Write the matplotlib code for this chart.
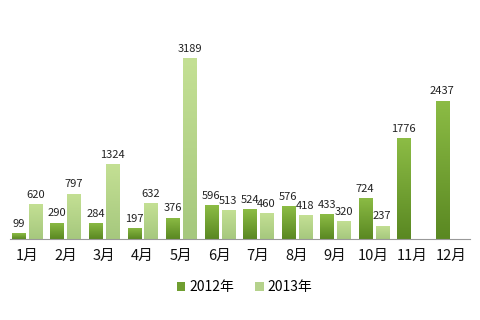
import matplotlib
matplotlib.use('Agg')
import matplotlib.pyplot as plt
from matplotlib.colors import LinearSegmentedColormap
from matplotlib.patches import Patch
import numpy as np

plt.rcParams['font.family'] = ['Noto Sans CJK SC', 'DejaVu Sans']

months = ['1月', '2月', '3月', '4月', '5月', '6月', '7月', '8月', '9月', '10月', '11月', '12月']
sales_2012 = [99, 290, 284, 197, 376, 596, 524, 576, 433, 724, 1776, 2437]
sales_2013 = [620, 797, 1324, 632, 3189, 513, 460, 418, 320, 237, None, None]

fig = plt.figure(figsize=(4.8, 3.2), dpi=100)
ax = fig.add_axes([10 / 480, 81 / 320, 460 / 480, 219 / 320])

x = np.arange(len(months))
w = 0.34

cmap12 = LinearSegmentedColormap.from_list('c12', ['#5a8822', '#8cbc45'])
cmap13 = LinearSegmentedColormap.from_list('c13', ['#a6c87e', '#c4e094'])


def gradient_bars(xs, vals, cmap):
    grad = np.linspace(0, 1, 64).reshape(-1, 1)
    for xi, v in zip(xs, vals):
        if v is None:
            continue
        b = ax.bar(xi, v, w, color='none', edgecolor='none')[0]
        im = ax.imshow(grad, cmap=cmap, origin='lower', aspect='auto',
                       extent=[xi - w / 2, xi + w / 2, 0, v], zorder=2)
        im.set_clip_path(b)
        ax.text(xi, v + 75, str(v), ha='center', va='bottom', fontsize=8,
                color='#222222')


gradient_bars(x - 0.22, sales_2012, cmap12)
gradient_bars(x + 0.22, sales_2013, cmap13)

ax.set_xlim(-0.44, 11.5)
ax.set_ylim(0, 3855)
ax.set_yticks([])
ax.set_xticks(x)
ax.set_xticklabels(months, fontsize=10.5, color='#111111')
ax.tick_params(axis='x', length=0, pad=7)
for s in ['top', 'right', 'left']:
    ax.spines[s].set_visible(False)
ax.spines['bottom'].set_color('#999999')
ax.spines['bottom'].set_linewidth(0.8)

handles = [Patch(facecolor='#6f9e30', label='2012年'),
           Patch(facecolor='#b5d28c', label='2013年')]
fig.legend(handles=handles, loc='center', bbox_to_anchor=(0.51, 33 / 320),
           ncol=2, frameon=False, fontsize=10, handlelength=0.6,
           handleheight=0.6, handletextpad=0.3, columnspacing=1.5)

fig.savefig('out.png', dpi=100)
